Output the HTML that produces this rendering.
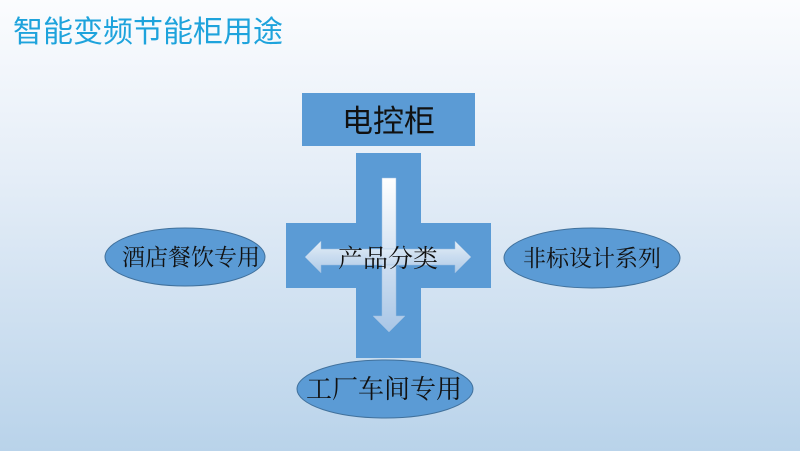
<!DOCTYPE html>
<html><head><meta charset="utf-8"><style>
body{margin:0;width:800px;height:451px;overflow:hidden;background:linear-gradient(#fbfcfe 0%,#e4edf7 40%,#b9d3ea 100%);font-family:"Liberation Sans","Noto Sans CJK SC",sans-serif;}
svg{position:absolute;left:0;top:0}
</style></head><body>
<svg width="800" height="451" viewBox="0 0 800 451">
<defs>
<linearGradient id="ag" x1="0" y1="0" x2="0" y2="1"><stop offset="0" stop-color="#ffffff"/><stop offset="1" stop-color="#a9c6e6"/></linearGradient>
<linearGradient id="ah" x1="0" y1="0" x2="0" y2="1"><stop offset="0" stop-color="#f4f8fc"/><stop offset="1" stop-color="#b7cfe9"/></linearGradient>
</defs>
<text x="13" y="42" font-size="30" fill="#1ea3dc" font-family="Liberation Sans,Noto Sans CJK SC,sans-serif">智能变频节能柜用途</text>
<rect x="302" y="93" width="173" height="53" fill="#5b9bd5"/>
<text x="388.5" y="132" font-size="31" text-anchor="middle" fill="#111" font-family="Liberation Sans,Noto Sans CJK SC,sans-serif">电控柜</text>
<path d="M356 153H421V223H491V288H421V358H356V288H286V223H356Z" fill="#5b9bd5"/>
<path d="M382 178H396V316H405L389 332L373 316H382Z" fill="url(#ag)" stroke="#9fbfe0" stroke-width="0.5"/>
<path d="M305 257L321 241V249H455V241L471 257L455 273V265H321V273Z" fill="url(#ah)" stroke="#9fbfe0" stroke-width="0.5" opacity="0.9"/>
<text x="388" y="267" font-size="25" text-anchor="middle" fill="#111" font-family="Liberation Serif,Noto Serif CJK SC,serif">产品分类</text>
<ellipse cx="185" cy="257" rx="80" ry="29" fill="#5b9bd5" stroke="#41719c" stroke-width="1"/>
<text x="191" y="265" font-size="23" text-anchor="middle" fill="#111" font-family="Liberation Serif,Noto Serif CJK SC,serif">酒店餐饮专用</text>
<ellipse cx="592" cy="258" rx="88" ry="30" fill="#5b9bd5" stroke="#41719c" stroke-width="1"/>
<text x="592" y="266" font-size="23" text-anchor="middle" fill="#111" font-family="Liberation Serif,Noto Serif CJK SC,serif">非标设计系列</text>
<ellipse cx="385" cy="389" rx="88" ry="29" fill="#5b9bd5" stroke="#41719c" stroke-width="1"/>
<text x="384" y="398" font-size="26" text-anchor="middle" fill="#111" font-family="Liberation Serif,Noto Serif CJK SC,serif">工厂车间专用</text>
</svg>
</body></html>
